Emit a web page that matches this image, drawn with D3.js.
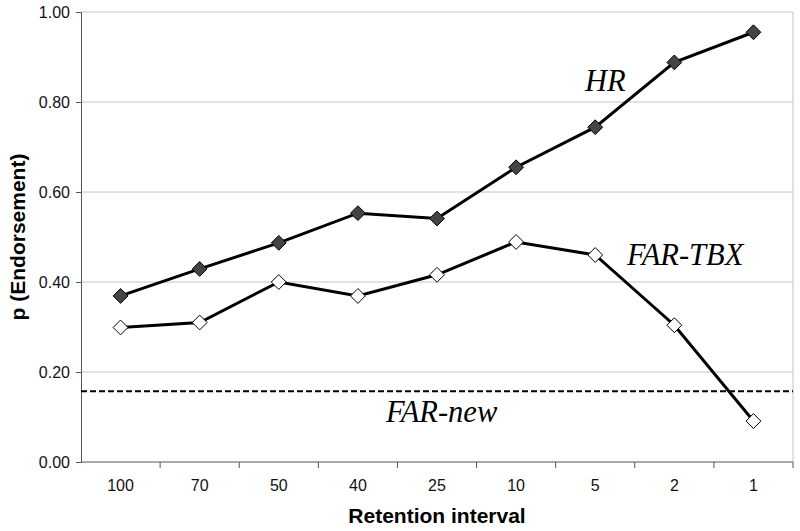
<!DOCTYPE html>
<html>
<head>
<meta charset="utf-8">
<script src="https://cdn.jsdelivr.net/npm/d3@7"></script>
<style>
  body { margin: 0; background: #fff; }
</style>
</head>
<body>
<script>
// data
const intervals = ['100', '70', '50', '40', '25', '10', '5', '2', '1'];
const hitRate = [0.369, 0.429, 0.487, 0.553, 0.541, 0.655, 0.744, 0.888, 0.955];
const farTbx = [0.299, 0.310, 0.400, 0.369, 0.416, 0.489, 0.460, 0.304, 0.091];
const farNew = 0.157;
const yTicks = [0, 0.2, 0.4, 0.6, 0.8, 1.0];

const width = 800;
const height = 531;
const margin = { top: 12, right: 7, bottom: 69, left: 81 };
const sans = 'Arial, "Liberation Sans", sans-serif';
const serif = '"Times New Roman", "Liberation Serif", serif';

const svg = d3.select('body')
  .append('svg')
  .attr('width', width)
  .attr('height', height)
  .style('font-family', sans);

const x = d3.scaleBand()
  .domain(intervals)
  .range([margin.left, width - margin.right]);

const y = d3.scaleLinear()
  .domain([0, 1])
  .range([height - margin.bottom, margin.top]);

// gridlines
svg.append('g')
  .selectAll('line')
  .data(yTicks.slice(1))
  .enter()
  .append('line')
  .attr('x1', margin.left)
  .attr('x2', width - margin.right)
  .attr('y1', d => y(d))
  .attr('y2', d => y(d))
  .attr('stroke', '#c4c4c4')
  .attr('stroke-width', 1);

// right border
svg.append('line')
  .attr('x1', width - margin.right)
  .attr('x2', width - margin.right)
  .attr('y1', margin.top)
  .attr('y2', height - margin.bottom)
  .attr('stroke', '#c4c4c4');

// y axis
const yAxis = svg.append('g')
  .attr('transform', `translate(${margin.left},0)`)
  .call(d3.axisLeft(y).tickValues(yTicks).tickFormat(d3.format('.2f')).tickSizeOuter(0).tickSize(5).tickPadding(6));
yAxis.attr('font-family', null);
yAxis.select('.domain').attr('stroke', '#555');
yAxis.selectAll('.tick line').attr('stroke', '#555');
yAxis.selectAll('text').attr('font-size', '16px').attr('fill', '#111');

// x axis: ticks sit between categories
const xAxis = svg.append('g')
  .attr('transform', `translate(0,${height - margin.bottom})`);
xAxis.append('line')
  .attr('x1', margin.left)
  .attr('x2', width - margin.right)
  .attr('stroke', '#555');
xAxis.selectAll('.tk')
  .data(intervals)
  .enter()
  .append('line')
  .attr('x1', d => x(d) + x.bandwidth())
  .attr('x2', d => x(d) + x.bandwidth())
  .attr('y1', 0)
  .attr('y2', 6)
  .attr('stroke', '#555');
xAxis.selectAll('.lbl')
  .data(intervals)
  .enter()
  .append('text')
  .attr('x', d => x(d) + x.bandwidth() / 2)
  .attr('y', 29)
  .attr('text-anchor', 'middle')
  .attr('font-size', '16px')
  .attr('fill', '#111')
  .text(d => d);

// axis titles
svg.append('text')
  .attr('x', (margin.left + width - margin.right) / 2)
  .attr('y', 523)
  .attr('text-anchor', 'middle')
  .attr('font-size', '21px')
  .attr('font-weight', 'bold')
  .text('Retention interval');

svg.append('text')
  .attr('transform', `translate(25,${(margin.top + height - margin.bottom) / 2}) rotate(-90)`)
  .attr('text-anchor', 'middle')
  .attr('font-size', '21px')
  .attr('font-weight', 'bold')
  .text('p (Endorsement)');

// FAR-new dashed reference line
svg.append('line')
  .attr('x1', margin.left)
  .attr('x2', width - margin.right)
  .attr('y1', y(farNew))
  .attr('y2', y(farNew))
  .attr('stroke', '#000')
  .attr('stroke-width', 2)
  .attr('stroke-dasharray', '6,3');

const cx = d => x(d) + x.bandwidth() / 2;
const line = d3.line()
  .x((d, i) => cx(intervals[i]))
  .y(d => y(d));

const diamond = d3.symbol().type(d3.symbolDiamond2).size(140);

function drawSeries(values, fill) {
  svg.append('path')
    .datum(values)
    .attr('d', line)
    .attr('fill', 'none')
    .attr('stroke', '#000')
    .attr('stroke-width', 3);
  svg.append('g')
    .selectAll('path')
    .data(values)
    .enter()
    .append('path')
    .attr('d', diamond)
    .attr('transform', (d, i) => `translate(${cx(intervals[i])},${y(d)})`)
    .attr('fill', fill)
    .attr('stroke', '#000')
    .attr('stroke-width', 1);
}

drawSeries(farTbx, '#fff');
drawSeries(hitRate, '#444');

// series labels
function seriesLabel(text, lx, ly) {
  svg.append('text')
    .attr('x', lx).attr('y', ly)
    .style('font-family', serif)
    .style('font-style', 'italic')
    .attr('font-size', '30.5px')
    .text(text);
}
seriesLabel('HR', 585, 91);
seriesLabel('FAR-TBX', 627, 265);
seriesLabel('FAR-new', 386, 422);
</script>
</body>
</html>
